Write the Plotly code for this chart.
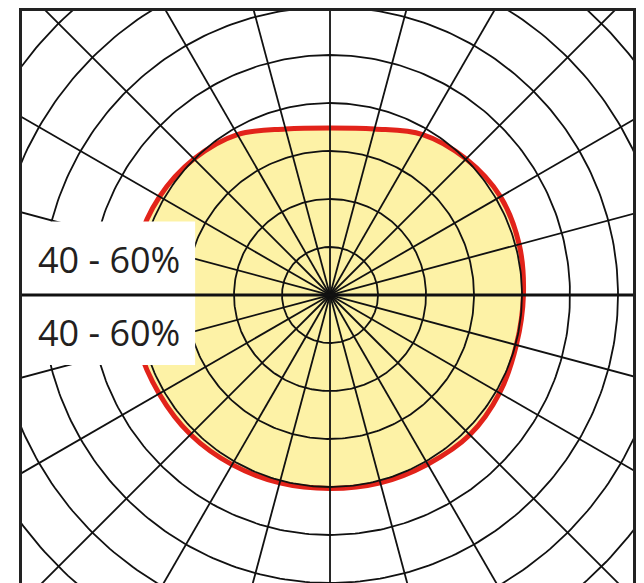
import numpy as np
import plotly.graph_objects as go

# Polar grid (radii in grid units, spoke angles in degrees clockwise from top)
ring_radii = [1, 2, 3, 4, 5, 6, 7, 8, 9]
spoke_angles = list(range(0, 360, 15))

# Light distribution curve (angle clockwise from top, radius in grid units)
curve_angles = [0, 15, 30, 45, 60, 75, 90, 105, 120, 135, 150, 165,
                180, 195, 210, 225, 240, 255, 270, 285, 300, 315, 330, 345, 360]
curve_radii = [3.48, 3.58, 3.86, 4.01, 4.10, 4.08, 4.03, 4.02, 4.08, 4.12, 4.07, 4.05,
               4.03, 4.05, 4.08, 4.11, 4.11, 4.13, 4.13, 4.14, 4.10, 4.01, 3.86, 3.58, 3.48]

label_texts = ["40 - 60%", "40 - 60%"]

X_RANGE = [-6.417, 6.3125]
Y_RANGE = [-6.0, 5.917]

GRID = "#111111"
FILL = "#fdf2a6"
RED = "#e2231a"


def polar_xy(angles, radii):
    t = np.radians(np.asarray(angles, dtype=float))
    r = np.asarray(radii, dtype=float)
    return r * np.sin(t), r * np.cos(t)


fig = go.Figure()

cx, cy = polar_xy(curve_angles, curve_radii)

# yellow fill
fig.add_trace(go.Scatter(x=cx, y=cy, mode="lines", fill="toself", fillcolor=FILL,
                         line=dict(width=0, shape="spline", smoothing=1.0),
                         hoverinfo="skip", showlegend=False))
# red outline
fig.add_trace(go.Scatter(x=cx, y=cy, mode="lines",
                         line=dict(color=RED, width=5, shape="spline", smoothing=1.0),
                         hoverinfo="skip", showlegend=False))

# rings
rx, ry = [], []
full = np.linspace(0, 360, 361)
for r in ring_radii:
    x, y = polar_xy(full, [r] * len(full))
    rx += list(x) + [None]
    ry += list(y) + [None]
fig.add_trace(go.Scatter(x=rx, y=ry, mode="lines", line=dict(color=GRID, width=1.8),
                         hoverinfo="skip", showlegend=False))

# spokes
sx, sy = [], []
for a in spoke_angles:
    if a in (90, 270):
        continue
    x, y = polar_xy([a, a], [0, 10])
    sx += list(x) + [None]
    sy += list(y) + [None]
fig.add_trace(go.Scatter(x=sx, y=sy, mode="lines", line=dict(color=GRID, width=1.8),
                         hoverinfo="skip", showlegend=False))

shapes = [
    dict(type="rect", xref="x", yref="y", x0=X_RANGE[0], x1=-2.81, y0=-1.46, y1=1.53,
         fillcolor="white", line=dict(width=0), layer="above"),
    dict(type="line", xref="x", yref="y", x0=X_RANGE[0], x1=X_RANGE[1], y0=0, y1=0,
         line=dict(color="#111111", width=3), layer="above"),
]

annotations = [
    dict(x=-4.6, y=0.74, xref="x", yref="y", text=label_texts[0], showarrow=False,
         font=dict(family="Open Sans", size=36, color="#231f20")),
    dict(x=-4.6, y=-0.78, xref="x", yref="y", text=label_texts[1], showarrow=False,
         font=dict(family="Open Sans", size=36, color="#231f20")),
]

fig.update_layout(
    width=628, height=575,
    margin=dict(l=14, r=3, t=3, b=0),
    paper_bgcolor="white", plot_bgcolor="white",
    shapes=shapes, annotations=annotations,
    xaxis=dict(range=X_RANGE, showgrid=False, zeroline=False, showticklabels=False,
               ticks="", showline=True, linecolor="#222222", linewidth=3, side="top",
               mirror=False, automargin=False, fixedrange=True),
    yaxis=dict(range=Y_RANGE, showgrid=False, zeroline=False, showticklabels=False,
               ticks="", showline=True, linecolor="#222222", linewidth=3, mirror=True,
               automargin=False, fixedrange=True),
    showlegend=False,
)

fig.write_html("out.html")
